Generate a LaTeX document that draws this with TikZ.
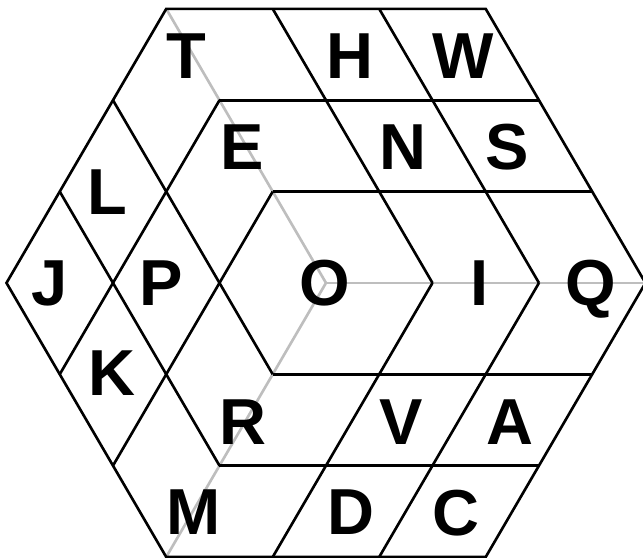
\documentclass[tikz,border=0pt]{standalone}
\usepackage{fontspec}
\setmainfont{Liberation Sans}
\usepackage{tikz}

\definecolor{hiddenedge}{RGB}{190,190,190}

\begin{document}
\begin{tikzpicture}[x={(1.065cm,0)}, y={(0,1.055cm)}, line width=0.75pt,
		letter/.style={font=\fontsize{18.5}{18.5}\selectfont\bfseries, inner sep=0pt, text depth=0pt}]
		\useasboundingbox (-3.061, -2.607) rectangle (2.977, 2.682);
		\draw [hiddenedge] (0, 0) -- (-1.5, 2.598);
		\draw [hiddenedge] (0, 0) -- (3, 0);
		\draw [hiddenedge] (0, 0) -- (-1.5, -2.598);
		\draw (-1.5, 2.598) -- (1.5, 2.598) -- (3, 0) -- (1.5, -2.598) -- (-1.5, -2.598) -- (-3, 0) -- cycle;
		\draw (-0.5, 0.866) -- (2.5, 0.866);
		\draw (-1, 1.732) -- (2, 1.732);
		\draw (1, 0) -- (-0.5, 2.598);
		\draw (2, 0) -- (0.5, 2.598);
		\draw (-0.5, -0.866) -- (2.5, -0.866);
		\draw (-1, -1.732) -- (2, -1.732);
		\draw (1, 0) -- (-0.5, -2.598);
		\draw (2, 0) -- (0.5, -2.598);
		\draw (-0.5, 0.866) -- (-2, -1.732);
		\draw (-1, 1.732) -- (-2.5, -0.866);
		\draw (-0.5, -0.866) -- (-2, 1.732);
		\draw (-1, -1.732) -- (-2.5, 0.866);
		\node (t) at (-1.315, 2.152) [letter] {T};
		\node (h) at (0.221, 2.152) [letter] {H};
		\node (w) at (1.286, 2.152) [letter] {W};
		\node (e) at (-0.785, 1.292) [letter] {E};
		\node (n) at (0.720, 1.292) [letter] {N};
		\node (s) at (1.705, 1.292) [letter] {S};
		\node (l) at (-2.053, 0.865) [letter] {L};
		\node (j) at (-2.594, 0) [letter] {J};
		\node (p) at (-1.545, 0) [letter] {P};
		\node (o) at (-0.011, 0) [letter] {O};
		\node (i) at (1.446, 0) [letter] {I};
		\node (q) at (2.488, 0) [letter] {Q};
		\node (k) at (-2.009, -0.856) [letter] {K};
		\node (r) at (-0.781, -1.322) [letter] {R};
		\node (v) at (0.704, -1.322) [letter] {V};
		\node (a) at (1.724, -1.322) [letter] {A};
		\node (m) at (-1.247, -2.175) [letter] {M};
		\node (d) at (0.235, -2.175) [letter] {D};
		\node (c) at (1.221, -2.175) [letter] {C};
	\end{tikzpicture}
\end{document}
